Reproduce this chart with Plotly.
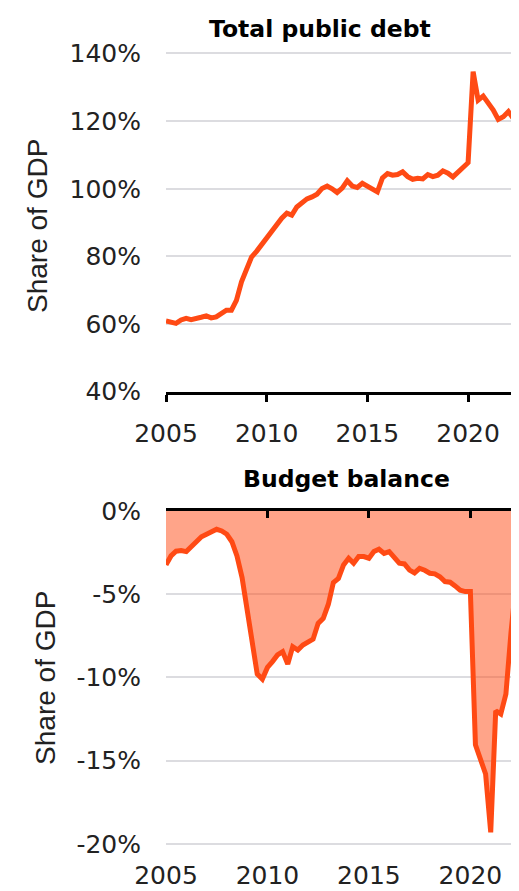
import plotly.graph_objects as go
import pandas as pd

# quarterly, 2005Q1 - 2022Q3
quarters = pd.period_range("2005Q1", "2022Q3", freq="Q").to_timestamp()

# total public debt, share of GDP (%)
debt = [60.9, 60.5, 60.2, 61.2, 61.7, 61.3, 61.5, 62.0, 62.4, 61.8,
        62.1, 63.0, 64.1, 64.1, 67.0, 72.5, 76.7, 79.8, 81.5, 83.5,
        85.7, 87.7, 89.2, 91.3, 92.8, 92.2, 94.6, 96.0, 97.0, 97.6,
        98.4, 100.1, 100.8, 100.0, 98.9, 100.2, 102.4, 100.8, 100.4, 101.6,
        100.8, 99.8, 99.1, 103.2, 104.5, 104.0, 104.2, 105.0, 103.6, 102.8,
        103.1, 102.9, 104.2, 103.6, 104.0, 105.3, 104.6, 103.5, 105.0, 106.5,
        107.7, 134.6, 126.2, 127.4, 125.4, 123.3, 120.5, 121.3, 122.8, 120.8,
        119.8]

# budget balance, share of GDP (%)
balance = [-3.24, -2.70, -2.42, -2.38, -2.44, -2.18, -1.85, -1.55, -1.40, -1.20,
           -1.10, -1.20, -1.40, -1.85, -2.70, -4.00, -5.95, -8.30, -9.80, -10.10,
           -9.40, -9.05, -8.65, -8.45, -9.20, -8.15, -8.35, -8.05, -7.90, -7.70,
           -6.75, -6.45, -5.60, -4.30, -4.05, -3.24, -2.84, -3.14, -2.74, -2.74,
           -2.84, -2.44, -2.30, -2.55, -2.44, -2.84, -3.14, -3.18, -3.55, -3.72,
           -3.45, -3.56, -3.74, -3.78, -3.95, -4.24, -4.28, -4.50, -4.76, -4.84,
           -4.84, -14.05, -14.95, -15.80, -19.30, -12.00, -12.20, -11.00, -7.30, -4.30,
           -3.80]

debt_ticks = [40, 60, 80, 100, 120, 140]
balance_ticks = [0, -5, -10, -15, -20]

LINE = "#FF4A14"
FILL = "rgba(255,74,20,0.5)"
TICKFONT = dict(family="DejaVu Sans", size=25, color="#222222")
GRID = "#DCDCE0"

fig = go.Figure()

# top panel: debt line
fig.add_trace(go.Scatter(x=quarters, y=debt, mode="lines",
                         line=dict(color=LINE, width=5),
                         xaxis="x", yaxis="y", showlegend=False))

# bottom panel: fill, then the line on an overlay axis that carries the 0% axis line
fig.add_trace(go.Scatter(x=quarters, y=balance, mode="none", fill="tozeroy",
                         fillcolor=FILL, xaxis="x2", yaxis="y2", showlegend=False))
fig.add_trace(go.Scatter(x=quarters, y=balance, mode="lines",
                         line=dict(color=LINE, width=5),
                         xaxis="x3", yaxis="y2", showlegend=False))

year_ticks = dict(tickmode="linear", tick0="2005-01-01", dtick="M60",
                  tickformat="%Y", automargin=False)

fig.update_layout(
    width=511, height=883,
    margin=dict(l=158, r=0, t=0, b=0),
    plot_bgcolor="white", paper_bgcolor="white",
    xaxis=dict(domain=[0, 1], anchor="y", range=["2005-01-01", "2022-07-12"],
               showgrid=False, showline=True, linecolor="black", linewidth=3,
               ticks="outside", ticklen=7, tickwidth=3, tickcolor="black",
               tickfont=TICKFONT, ticklabelstandoff=10, **year_ticks),
    yaxis=dict(domain=[0.5655, 0.9523], range=[40, 141], tickvals=debt_ticks,
               ticktext=[f"{v}%" for v in debt_ticks],
               showgrid=True, gridcolor=GRID, gridwidth=1.5, zeroline=False,
               showline=False, ticks="", tickfont=TICKFONT, ticklabelstandoff=24,
               automargin=False),
    xaxis2=dict(domain=[0, 1], anchor="y2", range=["2005-01-01", "2022-05-25"],
                showgrid=False, showline=False, ticks="", side="bottom",
                tickfont=TICKFONT, ticklabelstandoff=11, **year_ticks),
    xaxis3=dict(overlaying="x2", anchor="y2", range=["2005-01-01", "2022-05-25"],
                side="top", showgrid=False, showline=True, linecolor="black",
                linewidth=3, ticks="inside", ticklen=7, tickwidth=3,
                tickcolor="black", showticklabels=False, **year_ticks),
    yaxis2=dict(domain=[0.0495, 0.4304], range=[-20.2, 0], tickvals=balance_ticks,
                ticktext=[f"{v}%" for v in balance_ticks],
                showgrid=True, gridcolor=GRID, gridwidth=1.5, zeroline=False,
                showline=False, ticks="", tickfont=TICKFONT, ticklabelstandoff=24,
                automargin=False),
)

title_font = dict(family="DejaVu Sans", size=23.5, color="black")
ytitle_font = dict(family="Liberation Sans", size=28, color="#222222")

fig.add_annotation(text="<b>Total public debt</b>", xref="paper", yref="paper",
                   x=0.436, y=0.9762, showarrow=False, font=title_font,
                   xanchor="center", yanchor="middle")
fig.add_annotation(text="<b>Budget balance</b>", xref="paper", yref="paper",
                   x=0.510, y=0.4666, showarrow=False, font=title_font,
                   xanchor="center", yanchor="middle")
fig.add_annotation(text="Share of GDP", xref="paper", yref="paper",
                   x=-0.364, y=0.7526, showarrow=False, font=ytitle_font,
                   textangle=-90, xanchor="center", yanchor="middle")
fig.add_annotation(text="Share of GDP", xref="paper", yref="paper",
                   x=-0.343, y=0.2412, showarrow=False, font=ytitle_font,
                   textangle=-90, xanchor="center", yanchor="middle")

fig.write_html("out.html")
